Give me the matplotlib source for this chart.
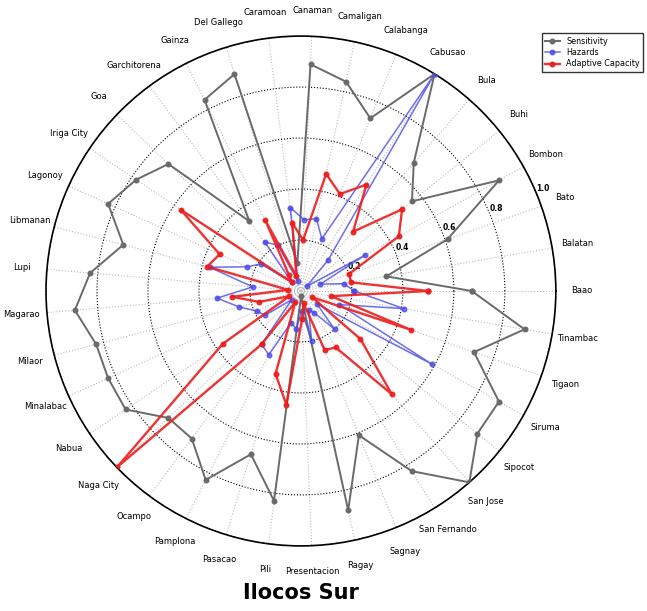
import matplotlib
matplotlib.use("Agg")
import matplotlib.pyplot as plt
import numpy as np

municipalities = ["Baao", "Balatan", "Bato", "Bombon", "Buhi", "Bula", "Cabusao",
                  "Calabanga", "Camaligan", "Canaman", "Caramoan", "Del Gallego",
                  "Gainza", "Garchitorena", "Goa", "Iriga City", "Lagonoy", "Libmanan",
                  "Lupi", "Magarao", "Milaor", "Minalabac", "Nabua", "Naga City",
                  "Ocampo", "Pamplona", "Pasacao", "Pili", "Presentacion", "Ragay",
                  "Sagnay", "San Fernando", "San Jose", "Sipocot", "Siruma", "Tigaon",
                  "Tinambac"]

sensitivity = [0.67, 0.34, 0.61, 0.89, 0.56, 0.67, 1.00, 0.73, 0.84, 0.89,
               0.11, 0.89, 0.84, 0.34, 0.72, 0.78, 0.83, 0.72, 0.83, 0.89,
               0.83, 0.83, 0.83, 0.72, 0.72, 0.83, 0.67, 0.83, 0.02, 0.88,
               0.61, 0.83, 1.00, 0.89, 0.89, 0.72, 0.89]

hazards = [0.21, 0.17, 0.08, 0.29, 0.03, 0.16, 1.00, 0.22, 0.29, 0.28,
           0.33, 0.04, 0.20, 0.24, 0.05, 0.19, 0.23, 0.37, 0.19, 0.33,
           0.25, 0.19, 0.17, 0.05, 0.26, 0.28, 0.13, 0.15, 0.08, 0.20,
           0.08, 0.10, 0.20, 0.08, 0.59, 0.16, 0.41]

adaptive = [0.50, 0.20, 0.20, 0.44, 0.51, 0.31, 0.49, 0.41, 0.47, 0.20,
            0.27, 0.06, 0.31, 0.08, 0.05, 0.57, 0.35, 0.38, 0.05, 0.27,
            0.17, 0.05, 0.37, 1.00, 0.26, 0.05, 0.34, 0.45, 0.11, 0.05,
            0.25, 0.26, 0.54, 0.30, 0.05, 0.46, 0.12]

rticks = [0.2, 0.4, 0.6, 0.8, 1.0]

n = len(municipalities)
angles = np.linspace(0, 2 * np.pi, n, endpoint=False)
ang_c = np.append(angles, angles[0])


def closed(v):
    return np.append(v, v[0])


fig = plt.figure(figsize=(6.47, 6.11), dpi=100)
ax = fig.add_axes([0.0711, 0.1064, 0.788, 0.8347], projection="polar")

ax.plot(ang_c, closed(sensitivity), "-o", color="#6a6a6a", lw=1.4, ms=3.3,
        label="Sensitivity", zorder=3)
ax.plot(ang_c, closed(hazards), "-o", color="#4a4ae8", lw=1.1, ms=3.3, alpha=0.8,
        label="Hazards", zorder=4)
ax.plot(ang_c, closed(adaptive), "-o", color="#ee1c1c", lw=1.7, ms=3.3, alpha=0.9,
        label="Adaptive Capacity", zorder=5)

ax.set_ylim(0, 1.0)
ax.set_yticks(rticks)
ax.set_yticklabels([str(t) for t in rticks], fontsize=5.5, fontweight="bold")
ax.set_rlabel_position(22.5)
ax.set_xticks(angles)
ax.set_xticklabels([])
for a, name in zip(angles, municipalities):
    ax.text(a, 1.1, name, ha="center", va="center", fontsize=6)

ax.yaxis.grid(True, color="black", linestyle=":", linewidth=0.8)
ax.xaxis.grid(True, color="#bbbbbb", linestyle=":", linewidth=0.8)
ax.spines["polar"].set_linewidth(1.2)

fig.legend(loc="upper right", bbox_to_anchor=(1.0, 0.952), fontsize=5.8,
           frameon=True, fancybox=False, edgecolor="black", handlelength=1.8,
           borderpad=0.4, labelspacing=0.3)

fig.text(0.465, 0.03, "Ilocos Sur", ha="center", va="center", fontsize=15,
         fontweight="bold")

fig.savefig("out.png", dpi=100)
